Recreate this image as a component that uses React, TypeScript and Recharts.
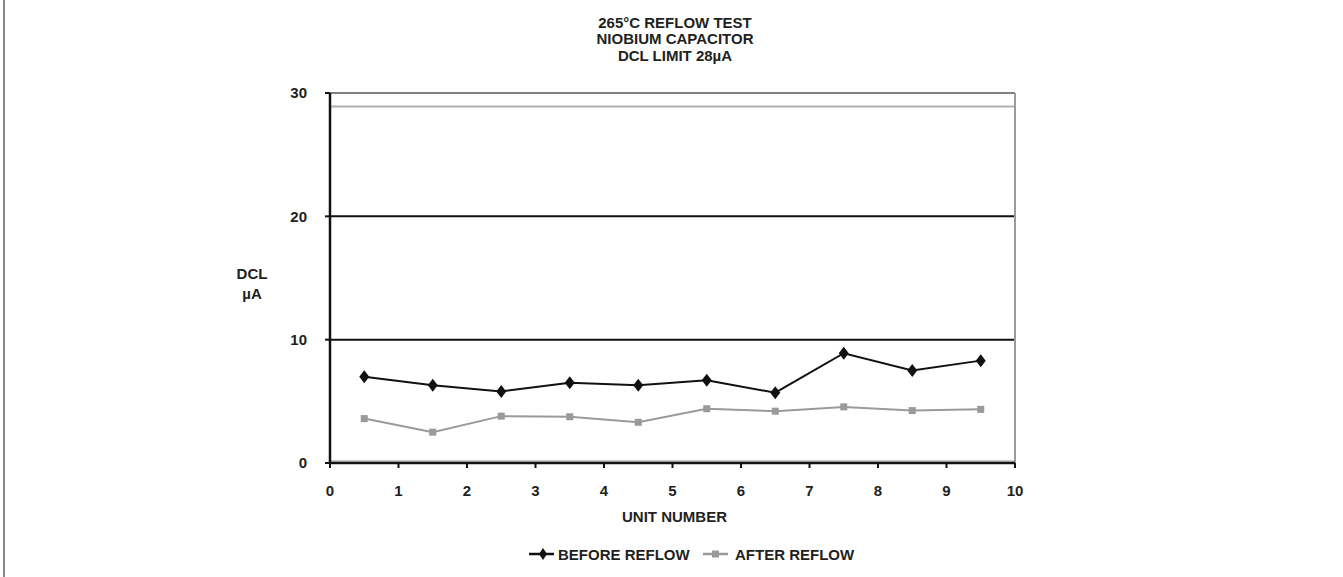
import { LineChart, Line, XAxis, YAxis, ReferenceLine } from 'recharts';

const units = [0.5, 1.5, 2.5, 3.5, 4.5, 5.5, 6.5, 7.5, 8.5, 9.5];
const beforeReflow = [7.0, 6.3, 5.8, 6.5, 6.3, 6.7, 5.7, 8.9, 7.5, 8.3];
const afterReflow = [3.6, 2.5, 3.8, 3.75, 3.3, 4.4, 4.2, 4.55, 4.25, 4.35];
const xTicks = [0, 1, 2, 3, 4, 5, 6, 7, 8, 9, 10];
const yTicks = [0, 10, 20, 30];
const dclLimit = 28.9;
const titleLines = ['265°C REFLOW TEST', 'NIOBIUM CAPACITOR', 'DCL LIMIT 28µA'];

const data = units.map((u, i) => ({ unit: u, before: beforeReflow[i], after: afterReflow[i] }));

const FONT = '"Liberation Sans", Arial, sans-serif';
const BLACK = '#111';
const GRAY = '#9a9a9a';
const TEXT = '#231f20';

const Diamond = ({ cx, cy }: any) =>
  cx == null ? null : (
    <path d={`M${cx},${cy - 6.5} L${cx + 5},${cy} L${cx},${cy + 6.5} L${cx - 5},${cy} Z`} fill={BLACK} />
  );

const Square = ({ cx, cy }: any) =>
  cx == null ? null : <rect x={cx - 3.5} y={cy - 3.5} width={7} height={7} fill={GRAY} />;

const tickStyle = { fontSize: 15, fontWeight: 700, fill: TEXT, fontFamily: FONT };

const txt = { position: 'absolute' as const, fontSize: 15, fontWeight: 700, lineHeight: '15px', color: TEXT, whiteSpace: 'nowrap' as const };

export default function App() {
  return (
    <div style={{ position: 'absolute', left: 0, top: 0, width: 1343, height: 577, background: '#fff', fontFamily: FONT }}>
      {/* page border on the left */}
      <div style={{ position: 'absolute', left: 3, top: 0, width: 2, height: 577, background: '#888' }} />

      <div style={{ ...txt, top: 14.5, left: 0, width: 1350, textAlign: 'center', lineHeight: '16.5px' }}>
        {titleLines.map(t => <div key={t}>{t}</div>)}
      </div>

      <LineChart width={1343} height={577} data={data} margin={{ top: 93, right: 328, bottom: 84, left: 290 }}>
        <ReferenceLine y={0} stroke="#c8c8c8" strokeWidth={2} transform="translate(0,-2)" />
        <ReferenceLine y={10} stroke={BLACK} strokeWidth={2} />
        <ReferenceLine y={20} stroke={BLACK} strokeWidth={2} />
        <ReferenceLine y={30} stroke="#808080" strokeWidth={2} />
        <ReferenceLine y={dclLimit} stroke="#b0b0b0" strokeWidth={2} />
        <ReferenceLine x={10} stroke={GRAY} strokeWidth={2} />
        <XAxis
          dataKey="unit" type="number" domain={[0, 10]} ticks={xTicks} interval={0}
          axisLine={{ stroke: BLACK, strokeWidth: 2.5 }} tickLine={{ stroke: BLACK, strokeWidth: 2 }}
          tickSize={5} tickMargin={17} height={30} tick={tickStyle}
        />
        <YAxis
          type="number" domain={[0, 30]} ticks={yTicks} interval={0} width={40}
          axisLine={{ stroke: BLACK, strokeWidth: 2.5 }} tickLine={{ stroke: BLACK, strokeWidth: 2 }}
          tickSize={5} tickMargin={18} tick={tickStyle}
        />
        <Line dataKey="after" stroke={GRAY} strokeWidth={2} dot={<Square />} activeDot={false} isAnimationActive={false} />
        <Line dataKey="before" stroke={BLACK} strokeWidth={2} dot={<Diamond />} activeDot={false} isAnimationActive={false} />
      </LineChart>

      {/* y axis title */}
      <div style={{ ...txt, left: 222, top: 264, width: 60, textAlign: 'center', lineHeight: '20px' }}>
        <div>DCL</div>
        <div>µA</div>
      </div>

      {/* x axis title */}
      <div style={{ ...txt, left: 0, top: 509, width: 1349, textAlign: 'center' }}>UNIT NUMBER</div>

      {/* legend */}
      <svg width={26} height={14} style={{ position: 'absolute', left: 529, top: 547 }}>
        <line x1={0} y1={7} x2={25} y2={7} stroke={BLACK} strokeWidth={2.5} />
        <path d="M14,1 L18,7 L14,13 L10,7 Z" fill={BLACK} />
      </svg>
      <div style={{ ...txt, left: 558, top: 547 }}>BEFORE REFLOW</div>
      <svg width={26} height={14} style={{ position: 'absolute', left: 703, top: 547 }}>
        <line x1={0} y1={7} x2={25} y2={7} stroke={GRAY} strokeWidth={2.5} />
        <rect x={9} y={3.5} width={7} height={7} fill={GRAY} />
      </svg>
      <div style={{ ...txt, left: 735, top: 547 }}>AFTER REFLOW</div>
    </div>
  );
}
